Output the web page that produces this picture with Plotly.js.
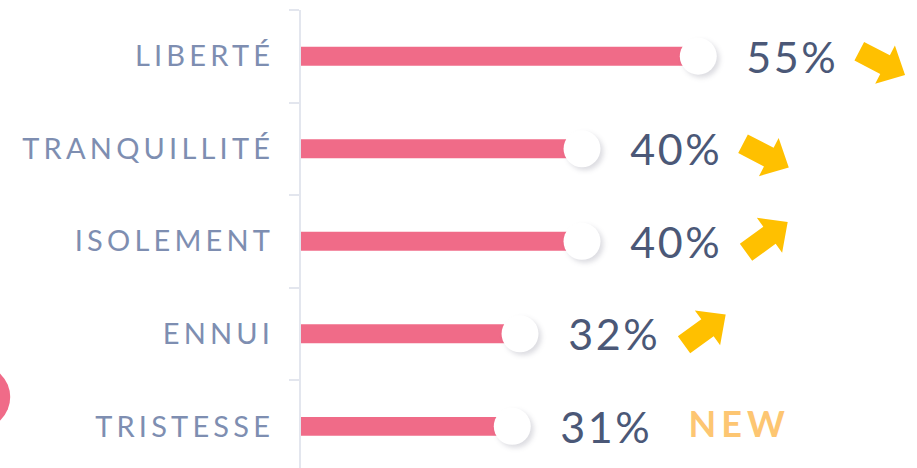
<!DOCTYPE html>
<html><head><meta charset="utf-8">
<script src="https://cdn.plot.ly/plotly-3.0.1.min.js"></script>
<style>
html,body{margin:0;padding:0;background:#fff;overflow:hidden;}
#chart{width:917px;height:468px;}
.ytick text{letter-spacing:4.2px;}
.annotation text{letter-spacing:2.5px;}
.annotation[data-index="5"] text{letter-spacing:5px;}
.scatterlayer .point{filter:drop-shadow(3px 3px 2.5px rgba(40,40,70,0.16));}
</style></head><body><div id="chart"></div>
<script>
// ---- data ----
const categories = ['LIBERTÉ', 'TRANQUILLITÉ', 'ISOLEMENT', 'ENNUI', 'TRISTESSE'];
const values = [55, 40, 40, 32, 31];
const trends = ['down', 'down', 'up', 'up', 'new'];
const valueLabels = values.map(v => v + '%');
const newLabel = 'NEW';

// ---- styles ----
const PINK = '#f06b88';
const LINE = '#e3e6ee';
const LABEL = '#7e8eb1';
const VALUE = '#4b5877';
const ARROW = '#ffc000';
const NEWC = '#fdc672';
const FONT = 'Lato, "Open Sans", sans-serif';

// block arrow path in pixel units relative to anchor (y up)
function arrowPath(dir) {
  const deg = dir === 'down' ? 27.3 : -36;
  const off = dir === 'down' ? [161, -5] : [164, 11]; // screen offsets (y down)
  const t = deg * Math.PI / 180;
  const u = [Math.cos(t), Math.sin(t)];
  const n = [-Math.sin(t), Math.cos(t)];
  const w = 10.5, h = 21.5, Ls = 29, Lh = 22.5;
  const pts = [
    [-w * n[0], -w * n[1]],
    [Ls * u[0] - w * n[0], Ls * u[1] - w * n[1]],
    [Ls * u[0] - h * n[0], Ls * u[1] - h * n[1]],
    [(Ls + Lh) * u[0], (Ls + Lh) * u[1]],
    [Ls * u[0] + h * n[0], Ls * u[1] + h * n[1]],
    [Ls * u[0] + w * n[0], Ls * u[1] + w * n[1]],
    [w * n[0], w * n[1]]
  ].map(p => [p[0] + off[0], -(p[1] + off[1])]);
  return 'M' + pts.map(p => p[0].toFixed(2) + ',' + p[1].toFixed(2)).join('L') + 'Z';
}

const traces = [
  {
    type: 'bar', orientation: 'h',
    x: values, y: categories,
    width: 0.205,
    marker: {color: PINK, line: {width: 0}},
    hoverinfo: 'skip'
  },
  {
    type: 'scatter', mode: 'markers',
    x: values, y: categories,
    marker: {size: 37, color: '#ffffff', line: {width: 0}},
    cliponaxis: false,
    hoverinfo: 'skip'
  }
];

const annotations = values.map((v, i) => ({
  x: v, y: categories[i], xref: 'x', yref: 'y',
  text: valueLabels[i], showarrow: false,
  xanchor: 'left', yanchor: 'middle', xshift: 50, yshift: 0,
  font: {family: FONT, size: 43, color: VALUE}
}));
trends.forEach((t, i) => {
  if (t === 'new') {
    annotations.push({
      x: values[i], y: categories[i], xref: 'x', yref: 'y',
      text: '<b>' + newLabel + '</b>', showarrow: false,
      xanchor: 'left', yanchor: 'middle', xshift: 182, yshift: 3,
      font: {family: FONT, size: 36, color: NEWC}
    });
  }
});

const shapes = [];
trends.forEach((t, i) => {
  if (t === 'up' || t === 'down') {
    shapes.push({
      type: 'path', xref: 'x', yref: 'y',
      xsizemode: 'pixel', ysizemode: 'pixel',
      xanchor: values[i], yanchor: categories[i],
      path: arrowPath(t),
      fillcolor: ARROW, line: {width: 0}, layer: 'above'
    });
  }
});
// decorative partial circle at left edge
shapes.push({
  type: 'circle', xref: 'paper', yref: 'paper',
  xsizemode: 'pixel', ysizemode: 'pixel',
  xanchor: -0.524, yanchor: 0.155,
  x0: -32, x1: 32, y0: -32, y1: 32,
  fillcolor: PINK, line: {width: 0}
});

const layout = {
  width: 917, height: 468,
  margin: {l: 301, r: 0, t: 10, b: 0, pad: 0},
  paper_bgcolor: '#ffffff', plot_bgcolor: '#ffffff',
  showlegend: false,
  font: {family: FONT},
  xaxis: {
    range: [3.74, 83.22], visible: false, fixedrange: true
  },
  yaxis: {
    type: 'category', categoryorder: 'array', categoryarray: categories,
    range: [4.45, -0.5],
    showline: true, linecolor: LINE, linewidth: 2,
    ticks: 'outside', tickson: 'boundaries', ticklen: 10, tickwidth: 2, tickcolor: LINE,
    ticklabelstandoff: 19,
    showgrid: false, zeroline: false,
    tickfont: {family: FONT, size: 29, color: LABEL},
    fixedrange: true
  },
  annotations: annotations,
  shapes: shapes
};

Plotly.newPlot('chart', traces, layout, {displayModeBar: false, staticPlot: true});
</script>
</body></html>
